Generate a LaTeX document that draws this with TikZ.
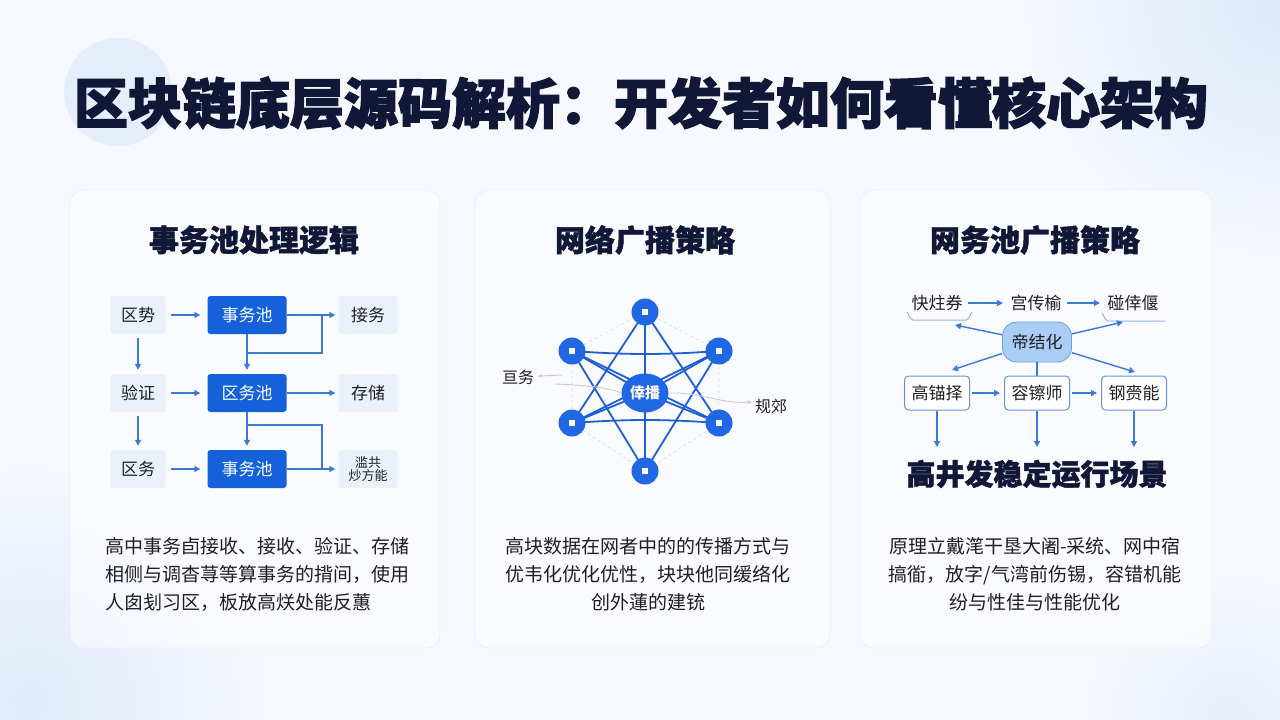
\documentclass[tikz,border=0pt]{standalone}
\usepackage{fontspec}
\setmainfont{Noto Sans CJK SC}
\newfontfamily\heavy{Noto Sans CJK SC}[BoldFeatures={FakeBold=1.6}]
\newfontfamily\heavyx{Noto Sans CJK SC}[BoldFeatures={FakeBold=2.6}]
\usetikzlibrary{arrows.meta,backgrounds,shapes.geometric}
\definecolor{bg}{HTML}{F6F8FD}
\definecolor{glow}{HTML}{DCE7F8}
\definecolor{navy}{HTML}{111737}
\definecolor{bluebox}{HTML}{1461DA}
\definecolor{ablue}{HTML}{3A79D6}
\definecolor{lightbox}{HTML}{EAF1FB}
\definecolor{nblue}{HTML}{2067E4}
\definecolor{pillfill}{HTML}{A9CDF4}
\definecolor{pilldraw}{HTML}{6AA1E0}
\definecolor{panelline}{HTML}{EBF0F8}
\definecolor{txt}{HTML}{1E1E24}
\tikzset{
  ttl/.style={font=\heavyx\fontsize{54}{60}\selectfont\bfseries, text=navy},
  sec/.style={font=\heavy\fontsize{30}{36}\selectfont\bfseries, text=navy},
  big/.style={font=\heavy\fontsize{29}{34}\selectfont\bfseries, text=navy},
  lbox/.style={fill=lightbox, rounded corners=3pt, minimum width=55pt, minimum height=38pt, inner sep=0pt, font=\fontsize{17}{20}\selectfont, text=txt},
  bbox/.style={fill=bluebox, rounded corners=3pt, minimum width=79pt, minimum height=38pt, inner sep=0pt, font=\fontsize{17}{20}\selectfont, text=white},
  rbox/.style={lbox, minimum width=59pt},
  arr/.style={draw=ablue, line width=1.4pt, -{Triangle[length=6pt,width=6pt]}},
  aline/.style={draw=ablue, line width=1.4pt},
  nd/.style={circle, fill=nblue, minimum size=27pt, inner sep=0pt,
    path picture={\fill[white] (path picture bounding box.center) ++(-3pt,-3pt) rectangle ++(6pt,6pt);}},
  hub/.style={ellipse, fill=nblue, minimum width=47pt, minimum height=39pt, inner sep=0pt, font=\fontsize{15}{17}\selectfont\bfseries, text=white},
  edge/.style={draw=nblue!92!black, line width=1.8pt},
  hexl/.style={draw=gray!30, line width=0.6pt, dashed},
  faint/.style={draw=gray!40, line width=0.9pt},
  lab/.style={font=\fontsize{16}{18}\selectfont, text=txt},
  ptxt/.style={font=\fontsize{17}{20}\selectfont, text=txt},
  pill/.style={fill=pillfill, draw=pilldraw, line width=0.8pt, rounded corners=14pt, minimum width=69pt, minimum height=40pt, inner sep=0pt, font=\fontsize{17}{20}\selectfont, text=txt},
  wbox/.style={fill=white, draw=ablue!80, line width=1pt, rounded corners=4pt, minimum width=65pt, minimum height=34pt, inner sep=0pt, font=\fontsize{17}{20}\selectfont, text=txt},
  brk/.style={draw=ablue!55, line width=1pt},
  desc/.style={font=\fontsize{19}{28}\selectfont, text=txt, inner sep=0pt},
  panel/.style={fill=white, fill opacity=0.5, draw=panelline, line width=0.8pt, rounded corners=14pt}
}
\begin{document}
\begin{tikzpicture}[x=1pt,y=-1pt]
\useasboundingbox (0,0) rectangle (1280,720);
% ---------- background ----------
\begin{scope}[on background layer]
\fill[bg] (0,0) rectangle (1280,720);
\begin{scope}
\clip (0,0) rectangle (1280,720);
\shade[inner color=glow, outer color=bg] (1280,0) circle (260);
\shade[inner color=glow!90, outer color=bg] (30,700) circle (240);
\shade[inner color=glow!70, outer color=bg] (1230,720) circle (150);
\end{scope}
\fill[glow!75] (118,92) circle (54);
\path[panel] (70,190) rectangle (440,648);
\path[panel] (475,190) rectangle (830,648);
\path[panel] (860,190) rectangle (1212,648);
\end{scope}
% ---------- title ----------
\node[ttl] (title) at (641,103) {区块链底层源码解析：开发者如何看懂核心架构};
\node[sec] (s1) at (254,240) {事务池处理逻辑};
\node[sec] (s2) at (645,240) {网络广播策略};
\node[sec] (s3) at (1035,240) {网务池广播策略};
% ---------- panel 1 ----------
\node[lbox] (a1) at (138,315) {区势};
\node[lbox] (a2) at (138,393) {验证};
\node[lbox] (a3) at (138,469) {区务};
\node[bbox] (b1) at (247,315) {事务池};
\node[bbox] (b2) at (247,393) {区务池};
\node[bbox] (b3) at (247,469) {事务池};
\node[rbox] (c1) at (368,315) {接务};
\node[rbox] (c2) at (368,393) {存储};
\node[rbox, align=center, font=\fontsize{13}{13}\selectfont] (c3) at (368,469) {滥共\\炒方能};
\draw[arr, shorten <=5pt, shorten >=7pt] (a1) -- (b1);
\draw[arr, shorten <=5pt, shorten >=7pt] (a2) -- (b2);
\draw[arr, shorten <=5pt, shorten >=7pt] (a3) -- (b3);
\draw[arr, shorten >=3pt] (b1) -- (c1);
\draw[arr, shorten >=3pt] (b2) -- (c2);
\draw[arr, shorten >=3pt] (b3) -- (c3);
\draw[arr, shorten <=4pt, shorten >=4pt] (a1) -- (a2);
\draw[arr, shorten <=4pt, shorten >=4pt] (a2) -- (a3);
\draw[arr, shorten >=4pt] (b1) -- (b2);
\draw[arr, shorten >=4pt] (b2) -- (b3);
\coordinate (j1) at (248,353);
\coordinate (k1) at (322,353);
\coordinate (j2) at (248,425);
\coordinate (k2) at (322,425);
\draw[aline] (j1) -- (k1) -- (k1 |- c1);
\draw[aline] (j2) -- (k2) -- (k2 |- c3);
% ---------- panel 2 ----------
\node[nd] (T) at (645,312) {};
\node[nd] (UL) at (572,351) {};
\node[nd] (UR) at (719,351) {};
\node[nd] (LL) at (572,423) {};
\node[nd] (LR) at (719,423) {};
\node[nd] (B) at (645,471) {};
\node[hub] (C) at (645,393) {倖播};
\node[lab] (l1) at (518,377) {亘务};
\node[lab] (l2) at (771,406) {规郊};
\coordinate (f1) at (562,375);
\coordinate (f2) at (752,402);
\begin{scope}[on background layer]
\draw[hexl] (T.center) -- (UL.center) -- (LL.center) -- (B.center) -- (LR.center) -- (UR.center) -- cycle;
\draw[edge] (T.center) -- (LL.center);
\draw[edge] (T.center) -- (LR.center);
\draw[edge] (B.center) -- (UL.center);
\draw[edge] (B.center) -- (UR.center);
\draw[edge] (UL.center) to[bend right=4] (UR.center);
\draw[edge] (LL.center) to[bend left=4] (LR.center);
\draw[edge] (UL.center) -- (LR.center);
\draw[edge] (UR.center) -- (LL.center);
\draw[edge] (T.center) -- (B.center);
\draw[edge] (UL.center) -- (C.center);
\draw[edge] (UR.center) -- (C.center);
\draw[edge] (LL.center) -- (C.center);
\draw[edge] (LR.center) -- (C.center);
\draw[faint, -{Stealth[length=5pt]}] (f1) -- (l1);
\draw[faint] (C.west) .. controls (610,388) and (585,385) .. (555,384);
\draw[faint, -{Stealth[length=5pt]}] (C.east) .. controls (700,392) and (720,404) .. (f2);
\end{scope}
% ---------- panel 3 ----------
\node[ptxt] (t1) at (937,303) {快炷券};
\node[ptxt] (t2) at (1036,303) {宫传榆};
\node[ptxt] (t3) at (1133,303) {碰倖偃};
\draw[arr, shorten <=2pt, shorten >=4pt] (t1) -- (t2);
\draw[arr, shorten <=2pt, shorten >=4pt] (t2) -- (t3);
\draw[brk] (907,313) to[out=90,in=180] (913,320) -- (966,320) to[out=0,in=90] (972,313);
\draw[brk] (1102,314) to[out=90,in=180] (1108,321) -- (1165,321);
\node[pill] (m) at (1037,342) {帝结化};
\node[wbox] (q1) at (937,393) {高锚择};
\node[wbox] (q2) at (1037,393) {容镲师};
\node[wbox] (q3) at (1134,393) {钢赍能};
\coordinate (e1) at (955,325);
\coordinate (e2) at (1123,322);
\coordinate (e3) at (952,370);
\coordinate (e4) at (1135,372);
\draw[arr] (m) -- (e1);
\draw[arr] (m) -- (e2);
\draw[arr] (m) -- (e3);
\draw[arr] (m) -- (e4);
\draw[aline, line width=1.2pt] (m) -- (q2);
\draw[arr, shorten <=2pt, shorten >=4pt] (q1) -- (q2);
\draw[arr, shorten <=2pt, shorten >=4pt] (q2) -- (q3);
\coordinate (d1) at (937,447);
\coordinate (d2) at (1037,447);
\coordinate (d3) at (1134,447);
\draw[arr] (q1) -- (d1);
\draw[arr] (q2) -- (d2);
\draw[arr] (q3) -- (d3);
\node[big] (bigt) at (1037,474) {高井发稳定运行场景};
% ---------- descriptions ----------
\node[desc, anchor=north west, align=left] (p1) at (105,537) {高中事务卣接收、接收、验证、存储\\相侧与调杳荨等算事务的揹间，使用\\人囱刬习区，板放高烪处能反蕙};
\node[desc, anchor=north, align=center] (p2) at (648,537) {高块数据在网者中的的传播方式与\\优韦化优化优性，块块他同缓络化\\创外蓮的建铳};
\node[desc, anchor=north, align=center] (p3) at (1035,537) {原理立戴滗干垦大阇-采统、网中宿\\搞衜，放字/气湾前伤锡，容错机能\\纷与性佳与性能优化};
\end{tikzpicture}
\end{document}
